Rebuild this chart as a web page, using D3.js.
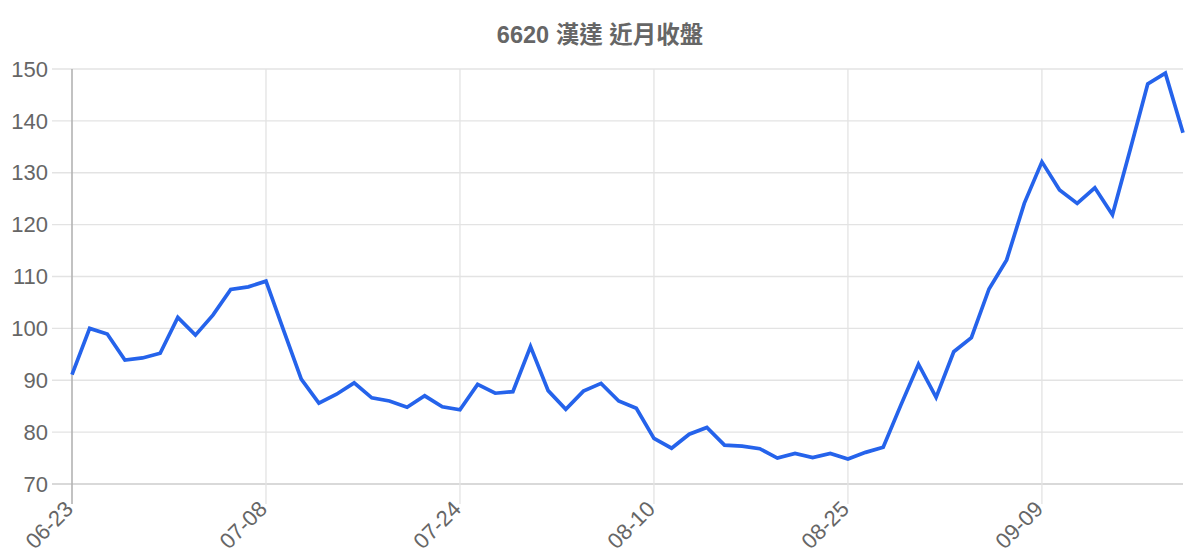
<!DOCTYPE html>
<html>
<head>
<meta charset="utf-8">
<script src="https://cdn.jsdelivr.net/npm/d3@7"></script>
<style>
  html, body { margin: 0; padding: 0; background: #fff; }
  svg { display: block; font-family: "Liberation Sans", Arial, "Noto Sans CJK TC", sans-serif; }
</style>
</head>
<body>
<svg id="chart" width="1200" height="560"></svg>
<script>
const title = "6620 漢達 近月收盤";
const closes = [91.1, 100.0, 98.9, 93.9, 94.3, 95.2, 102.1, 98.7, 102.6, 107.5,
  108.0, 109.1, 99.6, 90.2, 85.6, 87.3, 89.5, 86.6, 86.0, 84.8,
  87.0, 84.9, 84.3, 89.2, 87.5, 87.8, 96.5, 88.0, 84.4, 87.9,
  89.4, 86.0, 84.6, 78.8, 76.9, 79.6, 80.9, 77.5, 77.3, 76.8,
  75.0, 75.9, 75.1, 75.9, 74.8, 76.1, 77.1, 85.2, 93.1, 86.7,
  95.5, 98.2, 107.6, 113.2, 124.1, 132.1, 126.7, 124.1, 127.1, 121.9,
  134.4, 147.1, 149.2, 137.7];
const xTickLabels = ["06-23", "07-08", "07-24", "08-10", "08-25", "09-09"];
const xTickIndex = [0, 11, 22, 33, 44, 55];
const yTicks = [70, 80, 90, 100, 110, 120, 130, 140, 150];

const svg = d3.select("#chart");
const mLeft = 72, mRight = 1183, mTop = 69, mBottom = 484, tickLen = 20;

const x = d3.scaleLinear().domain([0, closes.length - 1]).range([mLeft, mRight]);
const y = d3.scaleLinear().domain([70, 150]).range([mBottom, mTop]);

// title
svg.append("text")
  .attr("x", 600).attr("y", 43)
  .attr("text-anchor", "middle")
  .attr("font-size", 23.5).attr("font-weight", "bold")
  .attr("fill", "#666")
  .text(title);

// horizontal grid
svg.append("g").selectAll("line").data(yTicks).join("line")
  .attr("x1", mLeft - tickLen).attr("x2", mRight)
  .attr("y1", d => y(d)).attr("y2", d => y(d))
  .attr("stroke", d => d === 70 ? "#cccccc" : "#e3e3e3")
  .attr("stroke-width", 1.3);

// vertical grid
svg.append("g").selectAll("line").data(xTickIndex).join("line")
  .attr("x1", d => x(d)).attr("x2", d => x(d))
  .attr("y1", mTop).attr("y2", mBottom + tickLen)
  .attr("stroke", d => d === 0 ? "#b3b3b3" : "#e3e3e3")
  .attr("stroke-width", d => d === 0 ? 1.6 : 1.3);

// y labels
svg.append("g").selectAll("text").data(yTicks).join("text")
  .attr("x", mLeft - tickLen - 4)
  .attr("y", d => y(d))
  .attr("dy", "0.35em")
  .attr("text-anchor", "end")
  .attr("font-size", 22)
  .attr("fill", "#666")
  .text(d => d);

// x labels
svg.append("g").selectAll("text").data(xTickIndex).join("text")
  .attr("transform", d => `translate(${x(d) - 3},${mBottom + tickLen + 1}) rotate(-45)`)
  .attr("text-anchor", "end")
  .attr("dy", "0.35em")
  .attr("font-size", 22)
  .attr("fill", "#666")
  .text((d, i) => xTickLabels[i]);

// line
const line = d3.line().x((d, i) => x(i)).y(d => y(d));
svg.append("path")
  .datum(closes)
  .attr("d", line)
  .attr("fill", "none")
  .attr("stroke", "#2563eb")
  .attr("stroke-width", 3.7)
  .attr("stroke-linejoin", "miter");
</script>
</body>
</html>
